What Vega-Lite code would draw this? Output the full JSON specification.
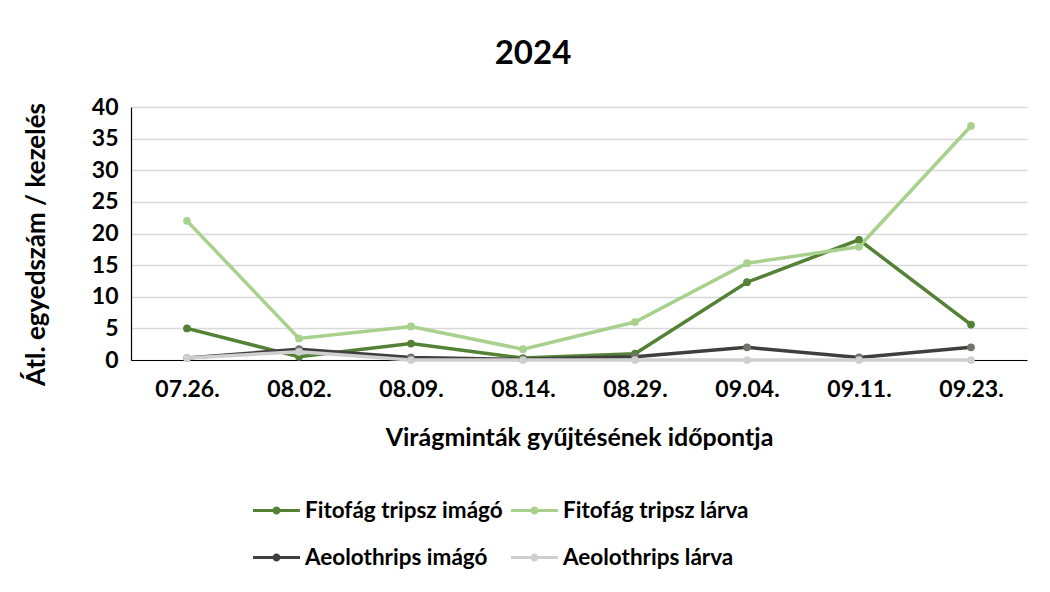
{
  "$schema": "https://vega.github.io/schema/vega-lite/v6.json",
  "width": 896,
  "height": 253,
  "autosize": {"type": "none"},
  "padding": {"left": 131, "top": 107, "right": 23, "bottom": 232},
  "background": "white",
  "title": {"text": "2024", "fontSize": 33, "font": "Lato", "fontWeight": "bold", "color": "black", "offset": 25, "dx": -46, "anchor": "middle"},
  "data": {"values": [
    {"d": "07.26.", "s": "Fitofág tripsz imágó", "v": 5.0},
    {"d": "08.02.", "s": "Fitofág tripsz imágó", "v": 0.5},
    {"d": "08.09.", "s": "Fitofág tripsz imágó", "v": 2.6},
    {"d": "08.14.", "s": "Fitofág tripsz imágó", "v": 0.3},
    {"d": "08.29.", "s": "Fitofág tripsz imágó", "v": 1.0},
    {"d": "09.04.", "s": "Fitofág tripsz imágó", "v": 12.3},
    {"d": "09.11.", "s": "Fitofág tripsz imágó", "v": 19.0},
    {"d": "09.23.", "s": "Fitofág tripsz imágó", "v": 5.6},
    {"d": "07.26.", "s": "Fitofág tripsz lárva", "v": 22.0},
    {"d": "08.02.", "s": "Fitofág tripsz lárva", "v": 3.4},
    {"d": "08.09.", "s": "Fitofág tripsz lárva", "v": 5.3},
    {"d": "08.14.", "s": "Fitofág tripsz lárva", "v": 1.7},
    {"d": "08.29.", "s": "Fitofág tripsz lárva", "v": 6.0},
    {"d": "09.04.", "s": "Fitofág tripsz lárva", "v": 15.3},
    {"d": "09.11.", "s": "Fitofág tripsz lárva", "v": 17.9},
    {"d": "09.23.", "s": "Fitofág tripsz lárva", "v": 37.0},
    {"d": "07.26.", "s": "Aeolothrips imágó", "v": 0.3},
    {"d": "08.02.", "s": "Aeolothrips imágó", "v": 1.7},
    {"d": "08.09.", "s": "Aeolothrips imágó", "v": 0.4},
    {"d": "08.14.", "s": "Aeolothrips imágó", "v": 0.1},
    {"d": "08.29.", "s": "Aeolothrips imágó", "v": 0.5},
    {"d": "09.04.", "s": "Aeolothrips imágó", "v": 2.0},
    {"d": "09.11.", "s": "Aeolothrips imágó", "v": 0.4},
    {"d": "09.23.", "s": "Aeolothrips imágó", "v": 2.0},
    {"d": "07.26.", "s": "Aeolothrips lárva", "v": 0.3},
    {"d": "08.02.", "s": "Aeolothrips lárva", "v": 1.3},
    {"d": "08.09.", "s": "Aeolothrips lárva", "v": 0.0},
    {"d": "08.14.", "s": "Aeolothrips lárva", "v": 0.0},
    {"d": "08.29.", "s": "Aeolothrips lárva", "v": 0.0},
    {"d": "09.04.", "s": "Aeolothrips lárva", "v": 0.0},
    {"d": "09.11.", "s": "Aeolothrips lárva", "v": 0.0},
    {"d": "09.23.", "s": "Aeolothrips lárva", "v": 0.0}
  ]},
  "encoding": {
    "x": {"field": "d", "type": "ordinal", "sort": null,
      "scale": {"type": "point", "padding": 0.5},
      "axis": {"title": "Virágminták gyűjtésének időpontja", "labelAngle": 0, "ticks": false, "labelPadding": 18, "titlePadding": 24, "titleFontSize": 25, "grid": false, "domainColor": "black", "domainWidth": 1.2}},
    "y": {"field": "v", "type": "quantitative",
      "scale": {"domain": [0, 40], "nice": false},
      "axis": {"title": "Átl. egyedszám / kezelés", "values": [0,5,10,15,20,25,30,35,40], "ticks": false, "labelPadding": 13, "titlePadding": 42, "titleFontSize": 26, "titleY": 137, "grid": true, "gridColor": "#d9d9d9", "gridWidth": 1.5, "domainColor": "black", "domainWidth": 1.2}},
    "color": {"field": "s", "type": "nominal",
      "scale": {"domain": ["Fitofág tripsz imágó", "Fitofág tripsz lárva", "Aeolothrips imágó", "Aeolothrips lárva"],
                "range": ["#538135", "#a9d18e", "#3f3f3f", "#cfcfcf"]},
      "legend": {"title": null, "orient": "none", "legendX": 122, "legendY": 380, "direction": "horizontal", "columns": 2,
        "symbolType": "M-1,-0.065H1V0.065H-1Z M0.17,0A0.17,0.17 0 1,1 -0.17,0A0.17,0.17 0 1,1 0.17,0Z",
        "symbolSize": 2209, "symbolStrokeWidth": 0, "labelFontSize": 22.5, "labelFont": "Lato", "labelFontWeight": "bold", "labelColor": "black",
        "labelOffset": 5, "rowPadding": 12, "columnPadding": 8, "labelLimit": 400,
        "encode": {"symbols": {"update": {"fill": {"scale": "color", "field": "value"}, "fillOpacity": {"value": 1}}}}}}
  },
  "layer": [
    {"mark": {"type": "line", "strokeWidth": 3.5}},
    {"mark": {"type": "point", "filled": true, "size": 60, "opacity": 1},
     "encoding": {"color": {"condition": {"test": "datum.s === 'Aeolothrips imágó'", "value": "#767171"}, "field": "s", "type": "nominal"}}}
  ],
  "config": {
    "view": {"stroke": null},
    "axis": {"labelFont": "Lato", "titleFont": "Lato", "labelFontSize": 23, "labelFontWeight": "bold", "titleFontWeight": "bold", "labelColor": "black", "titleColor": "black"}
  }
}
